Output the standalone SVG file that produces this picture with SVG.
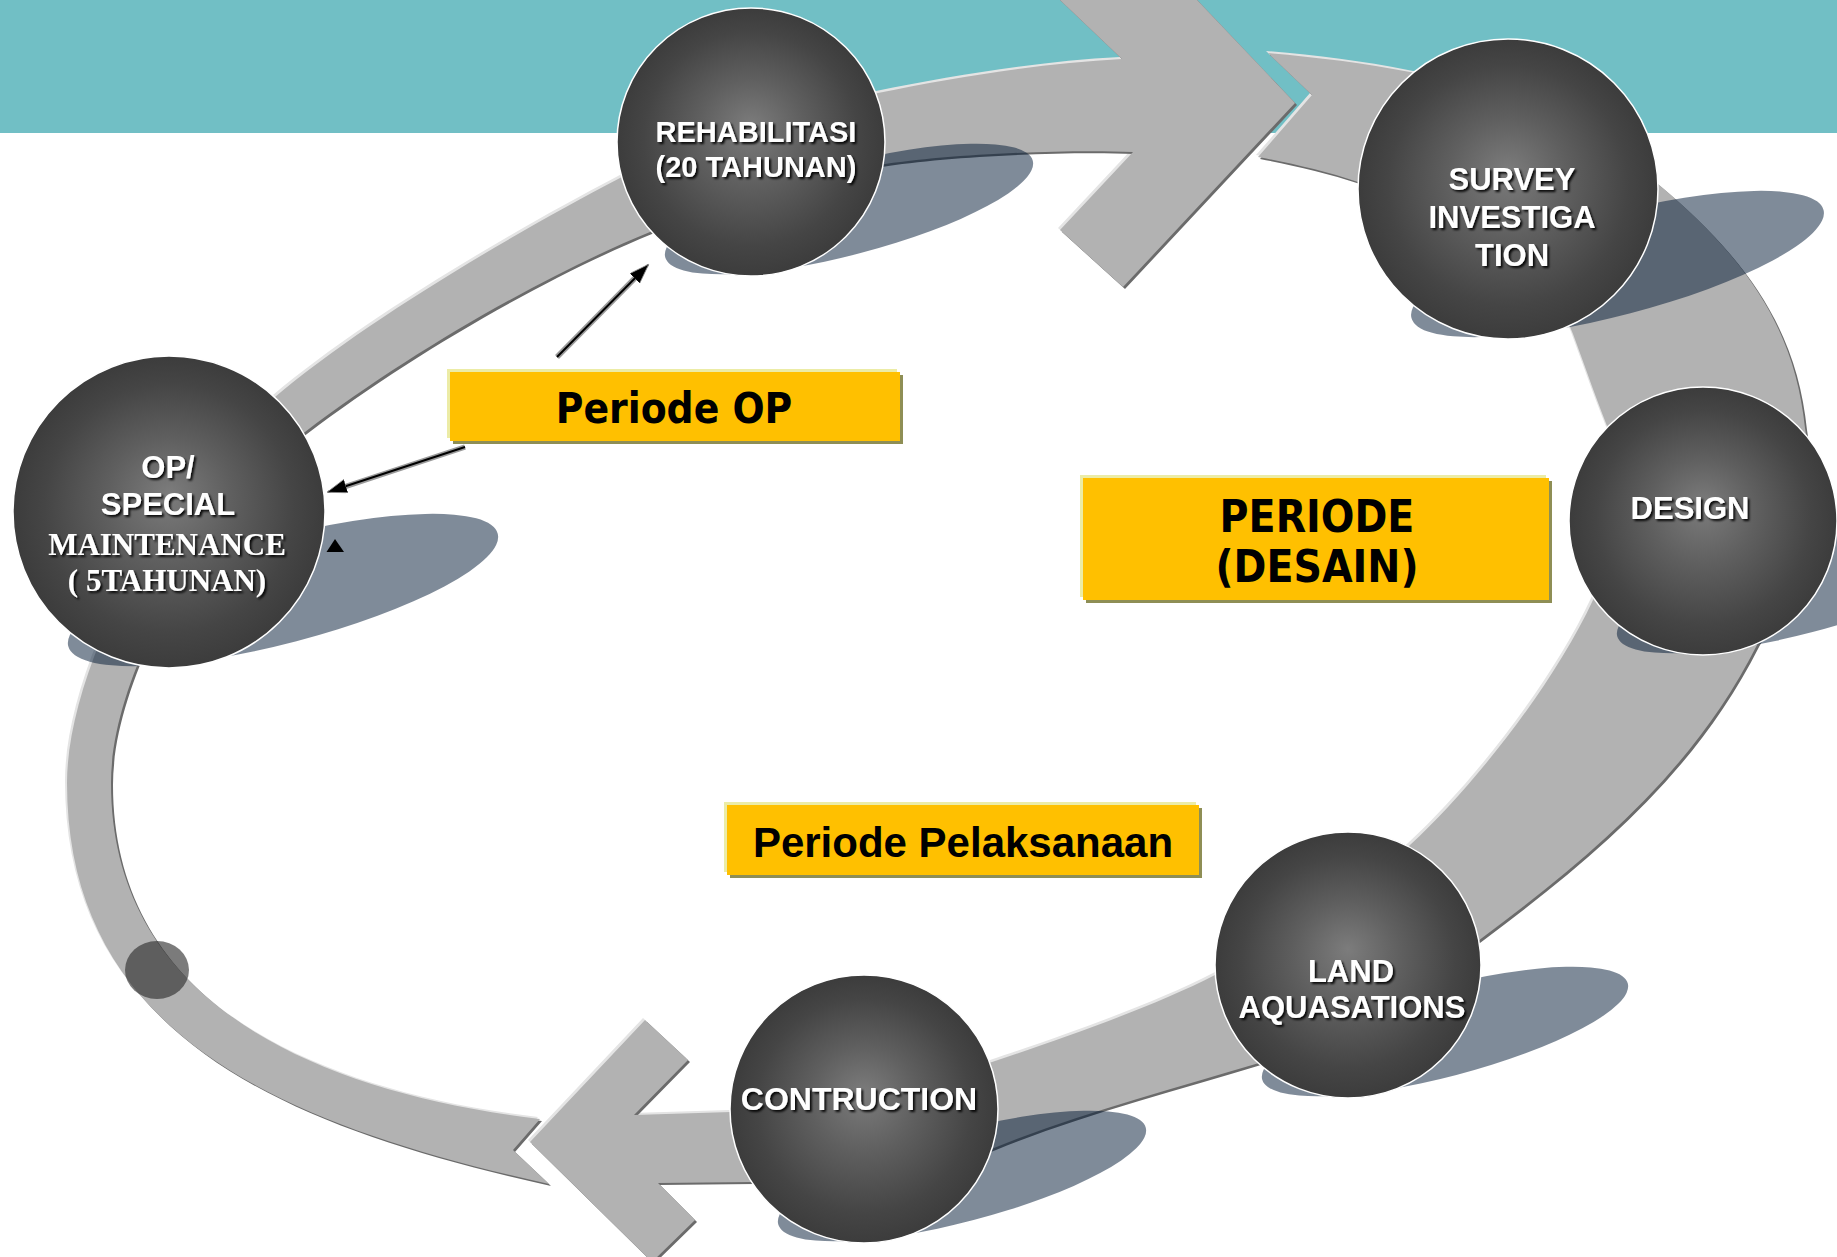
<svg xmlns="http://www.w3.org/2000/svg" width="1837" height="1257" viewBox="0 0 1837 1257">
  <style>
    .band { fill: #b2b2b2; }
    .band-hi { fill: #e4e4e4; }
    .band-lo { fill: #6b6b6b; }
    .shadow { fill: #001733; fill-opacity: 0.5; }
    .ball { fill: url(#ball); stroke: #ffffff; stroke-width: 1.5; }
    .nt { font-family: "Liberation Sans", Arial, sans-serif; font-weight: bold; font-size: 31px; fill: #ffffff; text-anchor: middle; }
    .nt-serif { font-family: "Liberation Serif", "Times New Roman", serif; font-weight: bold; font-size: 31px; fill: #ffffff; text-anchor: middle; }
    .box { fill: #ffc000; }
    .box-hi { fill: #ececa6; }
    .box-sh { fill: #8e8e55; }
    .lbl-t { font-family: "DejaVu Sans Condensed", "DejaVu Sans", sans-serif; font-stretch: condensed; font-weight: bold; fill: #000000; text-anchor: middle; }
    .lbl-a { font-family: "Liberation Sans", Arial, sans-serif; font-weight: bold; fill: #000000; text-anchor: middle; }
    .halo { stroke: #9a9a9a; stroke-width: 5.5; fill: none; }
    .wire { stroke: #000000; stroke-width: 2; fill: none; }
  </style>
  <defs>
    <radialGradient id="ball" cx="50%" cy="50%" r="50%" fx="50%" fy="44%">
      <stop offset="0" stop-color="#7c7c7c"/>
      <stop offset="0.4" stop-color="#5f5f5f"/>
      <stop offset="0.8" stop-color="#454545"/>
      <stop offset="1" stop-color="#3c3c3c"/>
    </radialGradient>
    <filter id="txtShadow" x="-10%" y="-40%" width="120%" height="180%">
      <feDropShadow dx="2" dy="2" stdDeviation="1" flood-color="#000000" flood-opacity="0.9"/>
    </filter>
    <marker id="head" markerUnits="userSpaceOnUse" markerWidth="22" markerHeight="16" refX="19" refY="7" orient="auto">
      <path d="M0,0 L20,7 L0,14 Z" fill="#000000" stroke="#8a8a8a" stroke-width="0.8"/>
    </marker>
    <!-- upper-left half of the ring, ending in the right-pointing chevron -->
    <path id="bandA" d="M 549,1184
      C 278,1124 67,1033 67,783
      C 67,673 158,490 275,397
      C 360,325 505,238 620,178
      C 690,139 800,109 878,93
      C 956,77 1043,63 1122,59
      L 997,-60 L 1140,-60 L 1295,103 L 1123,287 L 1060,230 L 1133,152
      C 1060,149 940,155 880,165
      C 800,177 723,200 650,232
      C 545,275 410,352 305,432
      C 223,489 111,663 111,783
      C 111,998 307,1091 540,1119
      L 513,1150 Z"/>
    <!-- lower-right half of the ring, ending in the left-pointing chevron -->
    <path id="bandB" d="M 1268,53
      C 1315,57 1365,63 1410,72
      C 1490,86 1600,132 1653,180
      C 1748,258 1795,330 1805,428
      C 1819,507 1797,576 1757,645
      C 1694,770 1594,854 1482,938
      C 1418,986 1336,1040 1259,1063
      C 1173,1089 1077,1114 994,1148
      C 920,1178 833,1183 753,1182
      L 658,1183 L 695,1220 L 652,1262 L 530,1142 L 645,1020 L 688,1060 L 634,1115 L 731,1112
      C 810,1110 930,1080 992,1062
      C 1058,1040 1153,1007 1215,975
      C 1286,939 1351,899 1410,845
      C 1476,784 1555,682 1593,600
      C 1618,546 1631,487 1613,441
      C 1598,404 1587,372 1573,334
      C 1546,259 1433,209 1358,182
      C 1325,171 1290,163 1258,157
      L 1312,95 Z"/>
  </defs>

  <!-- header strip -->
  <rect x="0" y="0" width="1837" height="133" fill="#71bfc5"/>

  <!-- cycle ring with bevelled edges -->
  <g id="cycle-band">
    <use href="#bandA" class="band-hi" transform="translate(-2,-2)"/>
    <use href="#bandB" class="band-hi" transform="translate(-2,-2)"/>
    <use href="#bandA" class="band-lo" transform="translate(2,2)"/>
    <use href="#bandB" class="band-lo" transform="translate(2,2)"/>
    <use href="#bandA" class="band"/>
    <use href="#bandB" class="band"/>
    <ellipse cx="157" cy="970" rx="32" ry="29" fill="#2a2a2a" fill-opacity="0.62"/>
  </g>

  <!-- stage nodes -->
  <g id="node-op">
    <ellipse class="shadow" cx="283" cy="590" rx="222" ry="53" transform="rotate(-14.7 283 590)"/>
    <circle class="ball" cx="169" cy="512" r="156"/>
    <g filter="url(#txtShadow)">
      <text class="nt" x="168" y="478">OP/</text>
      <text class="nt" x="168" y="515">SPECIAL</text>
      <text class="nt-serif" x="167" y="555">MAINTENANCE</text>
      <text class="nt-serif" x="167" y="591">( 5TAHUNAN)</text>
    </g>
  </g>

  <g id="node-rehabilitasi">
    <ellipse class="shadow" cx="849" cy="209" rx="190" ry="45.6" transform="rotate(-14.7 849 209)"/>
    <circle class="ball" cx="751" cy="142" r="134"/>
    <g filter="url(#txtShadow)">
      <text class="nt" x="756" y="142" style="font-size:29px">REHABILITASI</text>
      <text class="nt" x="756" y="177" style="font-size:29px">(20 TAHUNAN)</text>
    </g>
  </g>

  <g id="node-survey">
    <ellipse class="shadow" cx="1617.5" cy="264" rx="213" ry="51" transform="rotate(-14.7 1617.5 264)"/>
    <circle class="ball" cx="1508" cy="189" r="150"/>
    <g filter="url(#txtShadow)">
      <text class="nt" x="1512" y="190">SURVEY</text>
      <text class="nt" x="1512" y="228">INVESTIGA</text>
      <text class="nt" x="1512" y="266">TION</text>
    </g>
  </g>

  <g id="node-design">
    <ellipse class="shadow" cx="1801" cy="588" rx="190" ry="45.6" transform="rotate(-14.7 1801 588)"/>
    <circle class="ball" cx="1703" cy="521" r="134"/>
    <text class="nt" x="1690" y="519" filter="url(#txtShadow)">DESIGN</text>
  </g>

  <g id="node-land">
    <ellipse class="shadow" cx="1445" cy="1031.5" rx="189" ry="45" transform="rotate(-14.7 1445 1031.5)"/>
    <circle class="ball" cx="1348" cy="965" r="133"/>
    <g filter="url(#txtShadow)">
      <text class="nt" x="1351" y="982">LAND</text>
      <text class="nt" x="1352" y="1018">AQUASATIONS</text>
    </g>
  </g>

  <g id="node-construction">
    <ellipse class="shadow" cx="962" cy="1176" rx="190" ry="45.6" transform="rotate(-14.7 962 1176)"/>
    <circle class="ball" cx="864" cy="1109" r="134"/>
    <text class="nt" x="859" y="1110" style="font-size:32px" filter="url(#txtShadow)">CONTRUCTION</text>
  </g>

  <!-- period labels -->
  <g id="label-periode-op">
    <rect class="box-hi" x="447" y="369" width="450" height="69"/>
    <rect class="box-sh" x="453" y="375" width="450" height="69"/>
    <rect class="box" x="450" y="372" width="450" height="69"/>
    <text class="lbl-t" x="674" y="423" style="font-size:42px">Periode OP</text>
  </g>

  <g id="label-periode-desain">
    <rect class="box-hi" x="1080" y="475" width="466" height="122"/>
    <rect class="box-sh" x="1086" y="481" width="466" height="122"/>
    <rect class="box" x="1083" y="478" width="466" height="122"/>
    <text class="lbl-t" x="1317" y="532" style="font-size:44px">PERIODE</text>
    <text class="lbl-t" x="1317" y="582" style="font-size:44px">(DESAIN)</text>
  </g>

  <g id="label-periode-pelaksanaan">
    <rect class="box-hi" x="724" y="802" width="472" height="70"/>
    <rect class="box-sh" x="730" y="808" width="472" height="70"/>
    <rect class="box" x="727" y="805" width="472" height="70"/>
    <text class="lbl-a" x="963" y="857" style="font-size:42px">Periode Pelaksanaan</text>
  </g>

  <!-- pointers from the OP period label -->
  <g id="connectors">
    <line class="halo" x1="557" y1="357" x2="640" y2="273"/>
    <line class="wire" x1="557" y1="357" x2="648" y2="265" marker-end="url(#head)"/>
    <line class="halo" x1="465" y1="447" x2="338" y2="489"/>
    <line class="wire" x1="465" y1="447" x2="328" y2="492" marker-end="url(#head)"/>
    <polygon points="335,539 326.5,552 344,552" fill="#000000"/>
  </g>
</svg>
